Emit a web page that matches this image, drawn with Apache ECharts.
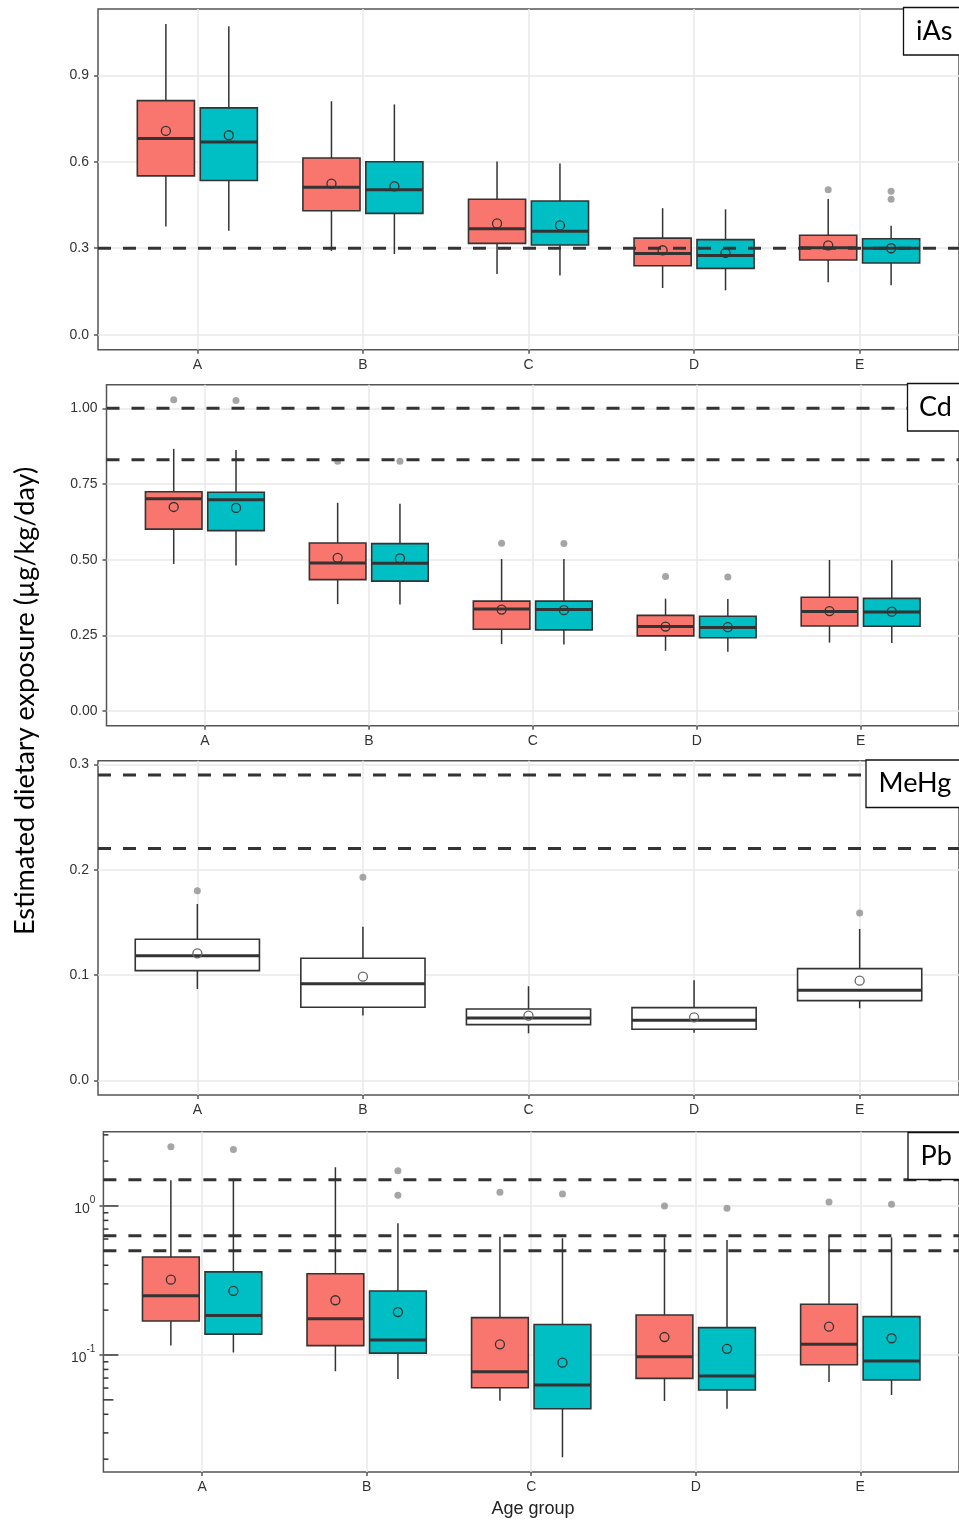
<!DOCTYPE html>
<html>
<head>
<meta charset="utf-8">
<script src="https://cdn.jsdelivr.net/npm/echarts@6/dist/echarts.min.js"></script>
<style>
  html, body { margin: 0; padding: 0; background: #fff; }
  #chart { width: 959px; height: 1522px; }
</style>
</head>
<body>
<div id="chart"></div>
<script>
// Age groups on the x axis
const ageGroups = ['A', 'B', 'C', 'D', 'E'];

// Box statistics per age group: [lower whisker, Q1, median, Q3, upper whisker]
// Outliers: [age group index, value]

// iAs
const iAsBox1 = [
  [0.375, 0.551, 0.681, 0.812, 1.078],
  [0.291, 0.430, 0.512, 0.613, 0.810],
  [0.211, 0.317, 0.368, 0.470, 0.601],
  [0.162, 0.239, 0.282, 0.335, 0.439],
  [0.182, 0.259, 0.302, 0.345, 0.471]
];
const iAsMean1 = [0.707, 0.524, 0.386, 0.293, 0.310];
const iAsOut1 = [[4, 0.503]];
const iAsBox2 = [
  [0.361, 0.535, 0.669, 0.787, 1.070],
  [0.280, 0.421, 0.503, 0.600, 0.799],
  [0.205, 0.311, 0.359, 0.464, 0.594],
  [0.154, 0.230, 0.275, 0.330, 0.435],
  [0.172, 0.249, 0.300, 0.333, 0.378]
];
const iAsMean2 = [0.692, 0.515, 0.379, 0.284, 0.300];
const iAsOut2 = [[4, 0.498], [4, 0.470]];
const iAsLimits = [0.3];
const iAsTicks = [0, 0.3, 0.6, 0.9];

// Cd
const cdBox1 = [
  [0.486, 0.601, 0.701, 0.7245, 0.866],
  [0.353, 0.434, 0.489, 0.555, 0.688],
  [0.221, 0.270, 0.337, 0.363, 0.502],
  [0.199, 0.248, 0.279, 0.316, 0.371],
  [0.226, 0.281, 0.329, 0.376, 0.499]
];
const cdMean1 = [0.674, 0.506, 0.335, 0.279, 0.330];
const cdOut1 = [[0, 1.028], [1, 0.825], [2, 0.554], [3, 0.444]];
const cdBox2 = [
  [0.481, 0.596, 0.698, 0.7225, 0.862],
  [0.352, 0.429, 0.488, 0.553, 0.685],
  [0.220, 0.268, 0.335, 0.363, 0.502],
  [0.196, 0.242, 0.276, 0.313, 0.370],
  [0.225, 0.280, 0.327, 0.372, 0.498]
];
const cdMean2 = [0.671, 0.504, 0.333, 0.277, 0.328];
const cdOut2 = [[0, 1.026], [1, 0.825], [2, 0.553], [3, 0.443]];
const cdLimits = [1.0, 0.83];
const cdTicks = [0, 0.25, 0.5, 0.75, 1.0];

// MeHg
const mehgBox = [
  [0.0867, 0.1041, 0.1183, 0.1339, 0.1674],
  [0.0614, 0.0693, 0.0917, 0.1159, 0.1459],
  [0.0446, 0.0528, 0.0592, 0.0677, 0.0893],
  [0.0452, 0.0484, 0.0570, 0.0690, 0.0950],
  [0.0684, 0.0756, 0.0855, 0.1060, 0.1437]
];
const mehgMean = [0.1206, 0.0984, 0.0614, 0.0598, 0.0946];
const mehgOut = [[0, 0.180], [1, 0.1928], [4, 0.1589]];
const mehgLimits = [0.29, 0.22];
const mehgTicks = [0, 0.1, 0.2, 0.3];

// Pb (log scale)
const pbBox1 = [
  [0.116, 0.169, 0.250, 0.455, 1.488],
  [0.0778, 0.1155, 0.175, 0.351, 1.818],
  [0.0493, 0.0603, 0.0773, 0.178, 0.622],
  [0.0491, 0.0697, 0.0974, 0.1856, 0.616],
  [0.0659, 0.0861, 0.118, 0.219, 0.629]
];
const pbMean1 = [0.320, 0.233, 0.118, 0.132, 0.155];
const pbOut1 = [[0, 2.50], [2, 1.236], [3, 1.0], [4, 1.064]];
const pbBox2 = [
  [0.104, 0.138, 0.184, 0.361, 1.488],
  [0.069, 0.103, 0.126, 0.269, 0.765],
  [0.0206, 0.0436, 0.0629, 0.160, 0.607],
  [0.0436, 0.0582, 0.0723, 0.1526, 0.591],
  [0.0539, 0.0680, 0.0912, 0.181, 0.616]
];
const pbMean2 = [0.269, 0.194, 0.0888, 0.110, 0.1295];
const pbOut2 = [[0, 2.39], [1, 1.726], [1, 1.179], [2, 1.204], [3, 0.965], [4, 1.027]];
const pbLimits = [1.5, 0.63, 0.5];
const pbTicks = [0.1, 1];
const pbLogTicks = [0.02, 0.03, 0.04, 0.05, 0.06, 0.07, 0.08, 0.09,
                    0.1, 0.2, 0.3, 0.4, 0.5, 0.6, 0.7, 0.8, 0.9, 1, 2, 3];

// ---- styling ----
const RED = '#F8766D';
const TEAL = '#00BFC4';
const INK = '#333333';
const FRAME = '#555555';
const GRID_LINE = '#e9e9e9';
const LABEL_COLOR = '#333333';
const X_MIN = 0.4, X_MAX = 5.6;
const DODGE = 0.19, DODGE_W = 0.345, SINGLE_W = 0.75;

function renderBox(offset, width, fill, circleStroke) {
  return function (params, api) {
    const cx = api.value(0) + offset;
    const lo = api.coord([cx, api.value(1)]);
    const q1 = api.coord([cx, api.value(2)]);
    const md = api.coord([cx, api.value(3)]);
    const q3 = api.coord([cx, api.value(4)]);
    const hi = api.coord([cx, api.value(5)]);
    const mn = api.coord([cx, api.value(6)]);
    const left = api.coord([cx - width / 2, api.value(3)])[0];
    const right = api.coord([cx + width / 2, api.value(3)])[0];
    const x = lo[0];
    return {
      type: 'group',
      children: [
        { type: 'line', shape: { x1: x, y1: q3[1], x2: x, y2: hi[1] },
          style: { stroke: INK, lineWidth: 1.5 } },
        { type: 'line', shape: { x1: x, y1: q1[1], x2: x, y2: lo[1] },
          style: { stroke: INK, lineWidth: 1.5 } },
        { type: 'rect', shape: { x: left, y: q3[1], width: right - left, height: q1[1] - q3[1] },
          style: { fill: fill, stroke: INK, lineWidth: 1.6 } },
        { type: 'line', shape: { x1: left, y1: md[1], x2: right, y2: md[1] },
          style: { stroke: INK, lineWidth: 3 } },
        { type: 'circle', shape: { cx: x, cy: mn[1], r: 4.5 },
          style: { fill: 'none', stroke: circleStroke, lineWidth: 1.3 } }
      ]
    };
  };
}

function boxSeries(idx, boxes, means, offset, width, fill, circleStroke) {
  return {
    type: 'custom',
    xAxisIndex: idx, yAxisIndex: idx,
    data: boxes.map((b, i) => [i + 1].concat(b, [means[i]])),
    encode: { x: 0, y: [1, 2, 3, 4, 5, 6] },
    renderItem: renderBox(offset, width, fill, circleStroke),
    z: 2
  };
}

function outlierSeries(idx, outs, offset) {
  return {
    type: 'scatter',
    xAxisIndex: idx, yAxisIndex: idx,
    data: outs.map(o => [o[0] + 1 + offset, o[1]]),
    symbol: 'circle', symbolSize: 7,
    itemStyle: { color: '#8e8e8e' },
    silent: true, z: 3
  };
}

function limitSeries(idx, limits) {
  return limits.map(v => ({
    type: 'line',
    xAxisIndex: idx, yAxisIndex: idx,
    data: [[X_MIN, v], [X_MAX, v]],
    symbol: 'none', silent: true,
    lineStyle: { color: INK, width: 3, type: [13, 12] },
    z: 4
  }));
}

function logTickSeries(idx, values) {
  return {
    type: 'custom',
    xAxisIndex: idx, yAxisIndex: idx,
    data: values.map(v => [X_MIN, v]),
    encode: { x: 0, y: 1 },
    renderItem: function (params, api) {
      const v = api.value(1);
      const p = api.coord([X_MIN, v]);
      const mant = Math.round(v / Math.pow(10, Math.floor(Math.log10(v) + 1e-9)));
      const len = mant === 1 ? 15 : (mant === 5 ? 10 : 5);
      return { type: 'line', shape: { x1: p[0], y1: p[1], x2: p[0] + len, y2: p[1] },
               style: { stroke: INK, lineWidth: 1.5 } };
    },
    silent: true, z: 5
  };
}

const panels = [
  { left: 98,    top: 9,     width: 865,   height: 340.7, min: -0.052,  max: 1.13,   ticks: iAsTicks,  digits: 1 },
  { left: 106.5, top: 384.7, width: 856.5, height: 341,   min: -0.0486, max: 1.078,  ticks: cdTicks,   digits: 2 },
  { left: 98,    top: 760.7, width: 865,   height: 334.3, min: -0.014,  max: 0.3035, ticks: mehgTicks, digits: 1 },
  { left: 103.4, top: 1131.7, width: 859.6, height: 340.3, min: 0.0164, max: 3.15,   ticks: pbTicks,   log: true }
];

const labelFont = 'Liberation Sans, Arial, sans-serif';

const grids = panels.map(p => ({
  left: p.left, top: p.top, width: p.width, height: p.height,
  show: true, borderColor: FRAME, borderWidth: 1.5, backgroundColor: 'transparent',
  containLabel: false
}));

const xAxes = panels.map((p, i) => ({
  type: 'value', gridIndex: i, min: X_MIN, max: X_MAX, position: 'bottom',
  axisLine: { show: false, onZero: false },
  axisTick: { show: true, length: 4, lineStyle: { color: FRAME, width: 1.5 }, customValues: [1, 2, 3, 4, 5] },
  axisLabel: {
    customValues: [1, 2, 3, 4, 5], margin: 8,
    color: LABEL_COLOR, fontFamily: labelFont, fontSize: 14,
    formatter: v => ageGroups[Math.round(v) - 1] || ''
  },
  splitLine: { show: true, lineStyle: { color: GRID_LINE, width: 1.5 } }
}));

const yAxes = panels.map((p, i) => ({
  type: p.log ? 'log' : 'value', logBase: 10, gridIndex: i, min: p.min, max: p.max, position: 'left',
  axisLine: { show: false, onZero: false },
  axisTick: { show: true, length: 4, lineStyle: { color: FRAME, width: 1.5 }, customValues: p.ticks },
  axisLabel: p.log ? {
    customValues: p.ticks, margin: 8,
    color: LABEL_COLOR, fontFamily: labelFont,
    formatter: v => '{b|10}{s|' + Math.round(Math.log10(v)) + '}',
    rich: {
      b: { fontSize: 14, fontFamily: labelFont, color: LABEL_COLOR, verticalAlign: 'bottom', lineHeight: 21 },
      s: { fontSize: 10, fontFamily: labelFont, color: LABEL_COLOR, verticalAlign: 'top' }
    }
  } : {
    customValues: p.ticks, margin: 9,
    color: LABEL_COLOR, fontFamily: labelFont, fontSize: 14,
    formatter: v => v.toFixed(p.digits)
  },
  splitLine: { show: true, lineStyle: { color: GRID_LINE, width: 1.5 } }
}));

const series = [].concat(
  // iAs
  boxSeries(0, iAsBox1, iAsMean1, -DODGE, DODGE_W, RED, INK),
  boxSeries(0, iAsBox2, iAsMean2, DODGE, DODGE_W, TEAL, INK),
  outlierSeries(0, iAsOut1, -DODGE),
  outlierSeries(0, iAsOut2, DODGE),
  limitSeries(0, iAsLimits),
  // Cd
  boxSeries(1, cdBox1, cdMean1, -DODGE, DODGE_W, RED, INK),
  boxSeries(1, cdBox2, cdMean2, DODGE, DODGE_W, TEAL, INK),
  outlierSeries(1, cdOut1, -DODGE),
  outlierSeries(1, cdOut2, DODGE),
  limitSeries(1, cdLimits),
  // MeHg
  boxSeries(2, mehgBox, mehgMean, 0, SINGLE_W, '#ffffff', '#666666'),
  outlierSeries(2, mehgOut, 0),
  limitSeries(2, mehgLimits),
  // Pb
  boxSeries(3, pbBox1, pbMean1, -DODGE, DODGE_W, RED, INK),
  boxSeries(3, pbBox2, pbMean2, DODGE, DODGE_W, TEAL, INK),
  outlierSeries(3, pbOut1, -DODGE),
  outlierSeries(3, pbOut2, DODGE),
  limitSeries(3, pbLimits),
  logTickSeries(3, pbLogTicks)
);

// Element name tags in the upper right corner of each panel
function tag(x, y, w, h, text, tx) {
  return {
    type: 'group',
    children: [
      { type: 'rect', z: 100, shape: { x: x, y: y, width: w, height: h },
        style: { fill: '#ffffff', stroke: '#111111', lineWidth: 1.3 } },
      { type: 'text', z: 101, x: tx, y: y + h / 2,
        style: { text: text, fill: '#000000', font: '27px Lato, "Open Sans", sans-serif',
                 textAlign: 'left', textVerticalAlign: 'middle' } }
    ]
  };
}

const titleFont = '27px Lato, "Open Sans", sans-serif';

const option = {
  animation: false,
  backgroundColor: '#ffffff',
  grid: grids,
  xAxis: xAxes,
  yAxis: yAxes,
  series: series,
  graphic: [
    tag(903.5, 7.5, 70, 47.5, 'iAs', 916),
    tag(907.5, 383.5, 70, 47.5, 'Cd', 919),
    tag(866, 760, 110, 47.5, 'MeHg', 878.5),
    tag(908, 1132.5, 70, 47, 'Pb', 920.5),
    {
      type: 'text', x: 25, y: 701, rotation: Math.PI / 2, z: 100,
      style: { text: 'Estimated dietary exposure (µg/kg/day)', fill: '#000000', font: titleFont,
               textAlign: 'center', textVerticalAlign: 'middle' }
    },
    {
      type: 'text', x: 533, y: 1509, z: 100,
      style: { text: 'Age group', fill: '#222222', font: '18px "Liberation Sans", Arial, sans-serif',
               textAlign: 'center', textVerticalAlign: 'middle' }
    }
  ]
};

const chart = echarts.init(document.getElementById('chart'), null, { renderer: 'canvas' });
chart.setOption(option);
</script>
</body>
</html>
